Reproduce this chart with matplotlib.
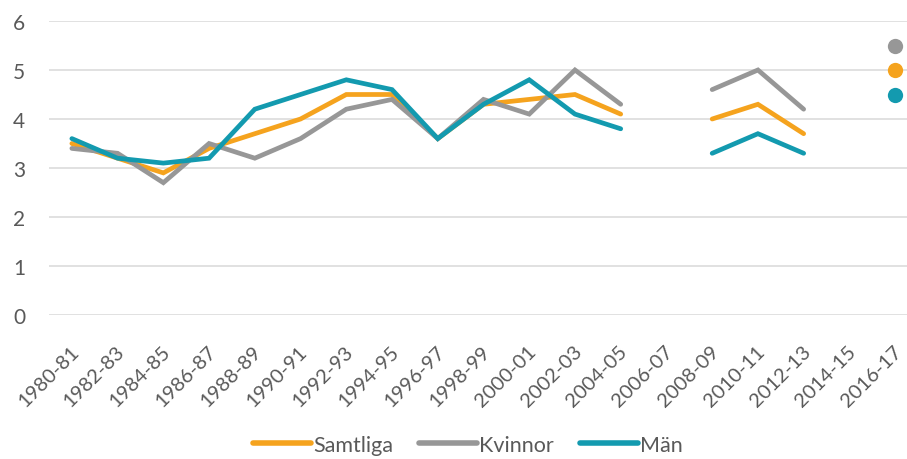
import numpy as np
import matplotlib.pyplot as plt
import matplotlib.transforms as mtransforms

plt.rcParams['font.family'] = ['Lato', 'DejaVu Sans']

# data
perioder = ['1980-81', '1982-83', '1984-85', '1986-87', '1988-89', '1990-91',
            '1992-93', '1994-95', '1996-97', '1998-99', '2000-01', '2002-03',
            '2004-05', '2006-07', '2008-09', '2010-11', '2012-13', '2014-15',
            '2016-17']
nan = np.nan
samtliga = [3.5, 3.2, 2.9, 3.4, 3.7, 4.0, 4.5, 4.5, 3.6, 4.3, 4.4, 4.5, 4.1,
            nan, 4.0, 4.3, 3.7, nan, 5.0]
kvinnor = [3.4, 3.3, 2.7, 3.5, 3.2, 3.6, 4.2, 4.4, 3.6, 4.4, 4.1, 5.0, 4.3,
           nan, 4.6, 5.0, 4.2, nan, 5.5]
man = [3.6, 3.2, 3.1, 3.2, 4.2, 4.5, 4.8, 4.6, 3.6, 4.3, 4.8, 4.1, 3.8,
       nan, 3.3, 3.7, 3.3, nan, 4.5]

series = [('Samtliga', samtliga, '#F5A31E'),
          ('Kvinnor', kvinnor, '#979797'),
          ('Män', man, '#139AAF')]

fig = plt.figure(figsize=(9.07, 4.60), dpi=100)
ax = fig.add_axes([49 / 907, 144 / 460, 869 / 907, 294 / 460])

x = np.arange(len(perioder))
for name, vals, col in series:
    v = np.array(vals, dtype=float)
    ax.plot(x, v, color=col, lw=3.4, solid_capstyle='round',
            solid_joinstyle='miter', label=name)
    # isolated points (no neighbours) get a marker, like Excel
    prev = np.r_[nan, v[:-1]]
    nxt = np.r_[v[1:], nan]
    lone = ~np.isnan(v) & np.isnan(prev) & np.isnan(nxt)
    ax.plot(x[lone], v[lone], 'o', color=col, ms=11, mec='none')

ax.set_xlim(-0.5, len(perioder) - 0.5)
ax.set_ylim(0, 6)
ax.set_yticks(range(0, 7))
ax.grid(axis='y', color='#D9D9D9', lw=1.1)
ax.set_axisbelow(True)
for s in ax.spines.values():
    s.set_visible(False)

ax.tick_params(axis='both', length=0, colors='#595959')
ax.tick_params(axis='y', pad=17, labelsize=15)
ax.tick_params(axis='x', pad=24, labelsize=14.5)
ax.set_xticks(x)
ax.set_xticklabels(perioder, rotation=45, ha='right', va='center',
                   rotation_mode='anchor')
shift = mtransforms.ScaledTranslation(4 / 100, 0, fig.dpi_scale_trans)
for lbl in ax.get_xticklabels():
    lbl.set_transform(lbl.get_transform() + shift)

leg = fig.legend(loc='center', bbox_to_anchor=(468 / 907, 1 - 446 / 460),
                 ncol=3, frameon=False, fontsize=15.5, handlelength=2.7,
                 handletextpad=0.1, columnspacing=1.2, labelcolor='#595959')
for h in leg.get_lines():
    h.set_linewidth(4)

fig.savefig('out.png', dpi=100)
